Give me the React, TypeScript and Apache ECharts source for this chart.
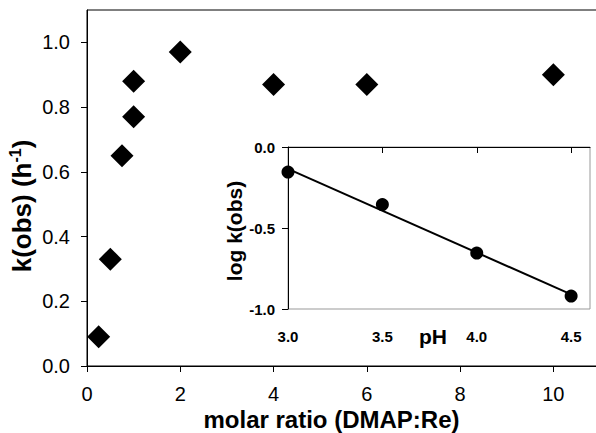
import React, { useEffect, useRef } from "react";
import * as echarts from "echarts";

const RATIO = [0.25, 0.5, 0.75, 1, 1, 2, 4, 6, 10];
const K_OBS = [0.09, 0.33, 0.65, 0.77, 0.88, 0.97, 0.87, 0.87, 0.9];
const PH = [3.0, 3.5, 4.0, 4.5];
const LOG_K = [-0.155, -0.355, -0.655, -0.92];
const FIT_PH = [3.0, 4.5];
const FIT_LOGK = [-0.135, -0.91];
const MAIN_X_TICKS = [0, 2, 4, 6, 8, 10];
const MAIN_Y_TICKS = [0, 0.2, 0.4, 0.6, 0.8, 1.0];
const INSET_X_TICKS = [3.0, 3.5, 4.0, 4.5];
const INSET_Y_TICKS = [-1.0, -0.5, 0.0];

const FONT = "'Liberation Sans', Arial, sans-serif";

export default function App() {
  const ref = useRef<HTMLDivElement>(null);
  useEffect(() => {
    if (!ref.current) return;
    const chart = echarts.init(ref.current, null, { renderer: "svg" });
    const axisLine = { lineStyle: { color: "#000", width: 1 } };
    chart.setOption({
      animation: false,
      backgroundColor: "#fff",
      textStyle: { fontFamily: FONT },
      grid: [
        { left: 87, top: 10, width: 513, height: 356, show: true, borderColor: "#000", borderWidth: 1, backgroundColor: "transparent", outerBoundsMode: "none", containLabel: false },
        { left: 288, top: 147, width: 302, height: 162, show: true, borderColor: "#999", borderWidth: 1, backgroundColor: "#fff", z: 5, outerBoundsMode: "none", containLabel: false },
      ],
      xAxis: [
        {
          type: "value", gridIndex: 0, min: 0, max: 11, interval: 2,
          axisLine, splitLine: { show: false },
          axisTick: { show: true, length: 6, lineStyle: { color: "#000" }, customValues: MAIN_X_TICKS },
          axisLabel: { customValues: MAIN_X_TICKS, margin: 18, color: "#000", fontSize: 20, fontFamily: FONT, formatter: (v: number) => String(v) },
          name: "molar ratio (DMAP:Re)", nameLocation: "middle", nameGap: 41, nameMoveOverlap: false,
          nameTextStyle: { fontSize: 24, fontWeight: "bold", color: "#000", fontFamily: FONT, padding: [0, 24, 0, 0] },
        },
        {
          type: "value", gridIndex: 1, min: 3.0, max: 4.6, interval: 0.5,
          axisLine, splitLine: { show: false },
          axisTick: { show: true, length: 6, lineStyle: { color: "#000" }, customValues: INSET_X_TICKS },
          axisLabel: { customValues: INSET_X_TICKS, margin: 20, color: "#000", fontSize: 15, fontWeight: "bold", fontFamily: FONT, formatter: (v: number) => v.toFixed(1) },
          name: "pH", nameLocation: "middle", nameGap: 17, nameMoveOverlap: false,
          nameTextStyle: { fontSize: 21, fontWeight: "bold", color: "#000", fontFamily: FONT, padding: [0, 12, 0, 0] },
          z: 6,
        },
      ],
      yAxis: [
        {
          type: "value", gridIndex: 0, min: 0, max: 1.1, interval: 0.2,
          axisLine, splitLine: { show: false },
          axisTick: { show: true, length: 6, lineStyle: { color: "#000" }, customValues: MAIN_Y_TICKS },
          axisLabel: { customValues: MAIN_Y_TICKS, margin: 17, color: "#000", fontSize: 20, fontFamily: FONT, formatter: (v: number) => v.toFixed(1) },
          name: "{a|k(obs) (h}{b|-1}{a|)}", nameLocation: "middle", nameGap: 50, nameRotate: 90, nameMoveOverlap: false,
          nameTextStyle: {
            color: "#000", fontFamily: FONT, padding: [0, 36, 0, 0],
            rich: {
              a: { fontSize: 26, fontWeight: "bold", color: "#000", fontFamily: FONT, lineHeight: 30 },
              b: { fontSize: 16, fontWeight: "bold", color: "#000", fontFamily: FONT, verticalAlign: "top", lineHeight: 30 },
            },
          },
        },
        {
          type: "value", gridIndex: 1, min: -1.0, max: 0.0, interval: 0.5,
          axisLine, splitLine: { show: false },
          axisTick: { show: true, length: 6, lineStyle: { color: "#000" }, customValues: INSET_Y_TICKS },
          axisLabel: { customValues: INSET_Y_TICKS, margin: 13, color: "#000", fontSize: 15, fontWeight: "bold", fontFamily: FONT, formatter: (v: number) => v.toFixed(1) },
          name: "log k(obs)", nameLocation: "middle", nameGap: 43, nameRotate: 90, nameMoveOverlap: false,
          nameTextStyle: { fontSize: 21, fontWeight: "bold", color: "#000", fontFamily: FONT, padding: [0, 6, 0, 0] },
          z: 6,
        },
      ],
      series: [
        {
          type: "scatter", xAxisIndex: 0, yAxisIndex: 0, symbol: "diamond", symbolSize: 23,
          itemStyle: { color: "#000", opacity: 1 },
          data: RATIO.map((x, i) => [x, K_OBS[i]]),
        },
        {
          type: "line", xAxisIndex: 1, yAxisIndex: 1, symbol: "none", z: 6,
          lineStyle: { color: "#000", width: 2 },
          data: FIT_PH.map((x, i) => [x, FIT_LOGK[i]]),
        },
        {
          type: "scatter", xAxisIndex: 1, yAxisIndex: 1, symbol: "circle", symbolSize: 13, z: 7,
          itemStyle: { color: "#000", opacity: 1 },
          data: PH.map((x, i) => [x, LOG_K[i]]),
        },
      ],
    });
    return () => chart.dispose();
  }, []);
  return (
    <div
      ref={ref}
      style={{ position: "fixed", left: 0, top: 0, width: 596, height: 433, background: "#fff" }}
    />
  );
}
